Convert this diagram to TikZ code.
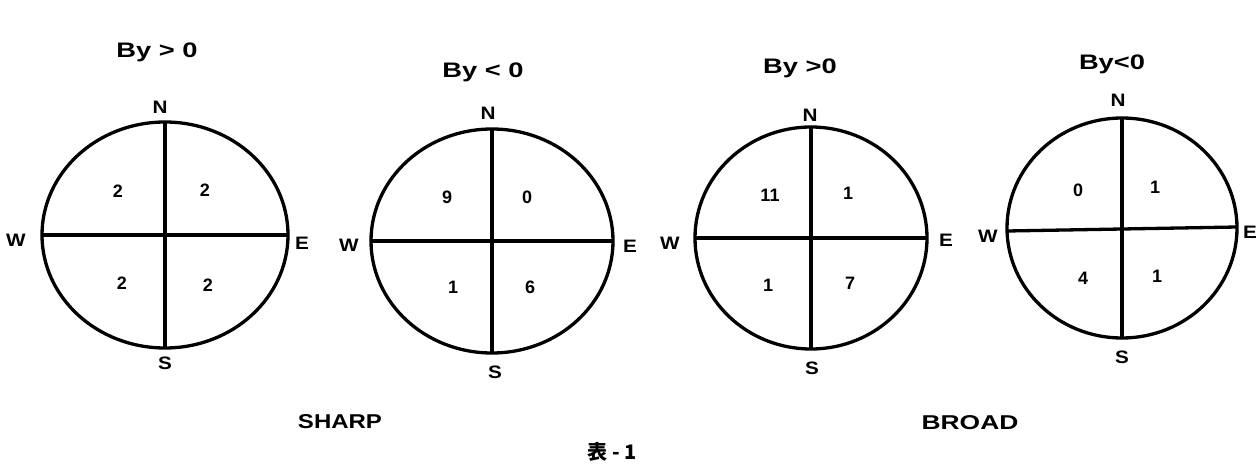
\documentclass[tikz,border=0pt]{standalone}
\usepackage{fontspec}
\setmainfont{Liberation Sans}
\newfontfamily\cjk{Noto Sans CJK JP}
\usetikzlibrary{shapes.geometric}
\begin{document}
\begin{tikzpicture}[x=1pt,y=-1pt,
  dial/.style={ellipse, draw, line width=3.3pt, inner sep=0pt, outer sep=0pt},
  axisline/.style={line width=3.3pt},
  lab/.style={font=\fontsize{18}{18}\selectfont\bfseries, inner sep=0pt, xscale=1.15},
  num/.style={font=\fontsize{18}{18}\selectfont\bfseries, inner sep=0pt},
  ttl/.style={font=\fontsize{21}{21}\selectfont\bfseries, inner sep=0pt, xscale=1.3},
  captext/.style={font=\fontsize{20}{20}\selectfont\bfseries, inner sep=0pt}]
\useasboundingbox (0,0) rectangle (1260,465);

% dials
\node[dial, minimum width=246pt, minimum height=226pt] (c1) at (165,235) {};
\node[dial, minimum width=242pt, minimum height=224pt] (c2) at (492,241) {};
\node[dial, minimum width=232pt, minimum height=222pt] (c3) at (811,238) {};
\node[dial, minimum width=230pt, minimum height=220pt] (c4) at (1122,228) {};

\foreach \c in {c1,c2,c3} {
  \draw[axisline] (\c.north) -- (\c.south);
  \draw[axisline] (\c.west) -- (\c.east);
}
\draw[axisline] (c4.north) -- (c4.south);
\draw[axisline] ([yshift=-3pt]c4.west) -- ([yshift=1pt]c4.east);

% titles
\node[ttl] (t1) at (157,52) {By > 0};
\node[ttl] (t2) at (483,72) {By < 0};
\node[ttl] (t3) at (800,68) {By >0};
\node[ttl] (t4) at (1112,64) {By<0};

% compass labels
\node[lab] (n1) at (160,107) {N};
\node[lab] (s1) at (165,363) {S};
\node[lab] (w1) at (16,240) {W};
\node[lab] (e1) at (302,243) {E};

\node[lab] (n2) at (488,113) {N};
\node[lab] (s2) at (495,372) {S};
\node[lab] (w2) at (349,245) {W};
\node[lab] (e2) at (630,246) {E};

\node[lab] (n3) at (810,115) {N};
\node[lab] (s3) at (812,368) {S};
\node[lab] (w3) at (670,243) {W};
\node[lab] (e3) at (946,240) {E};

\node[lab] (n4) at (1118,100) {N};
\node[lab] (s4) at (1122,357) {S};
\node[lab] (w4) at (988,236) {W};
\node[lab] (e4) at (1250,232) {E};

% counts
\node[num] (a1) at (118,191) {2};
\node[num] (b1) at (205,190) {2};
\node[num] (d1) at (122,283) {2};
\node[num] (f1) at (208,285) {2};

\node[num] (a2) at (447,197) {9};
\node[num] (b2) at (527,197) {0};
\node[num] (d2) at (453,287) {1};
\node[num] (f2) at (530,287) {6};

\node[num] (a3) at (770,195) {11};
\node[num] (b3) at (848,193) {1};
\node[num] (d3) at (768,285) {1};
\node[num] (f3) at (850,283) {7};

\node[num] (a4) at (1078,190) {0};
\node[num] (b4) at (1155,187) {1};
\node[num] (d4) at (1083,278) {4};
\node[num] (f4) at (1157,276) {1};

% captions
\node[captext, xscale=1.2] (sharp) at (340,422) {SHARP};
\node[captext, xscale=1.32] (broad) at (970,423) {BROAD};
\node[font=\cjk\fontsize{20}{20}\selectfont\bfseries, inner sep=0pt] (tab) at (612,452) {表 - 1};
\end{tikzpicture}
\end{document}
